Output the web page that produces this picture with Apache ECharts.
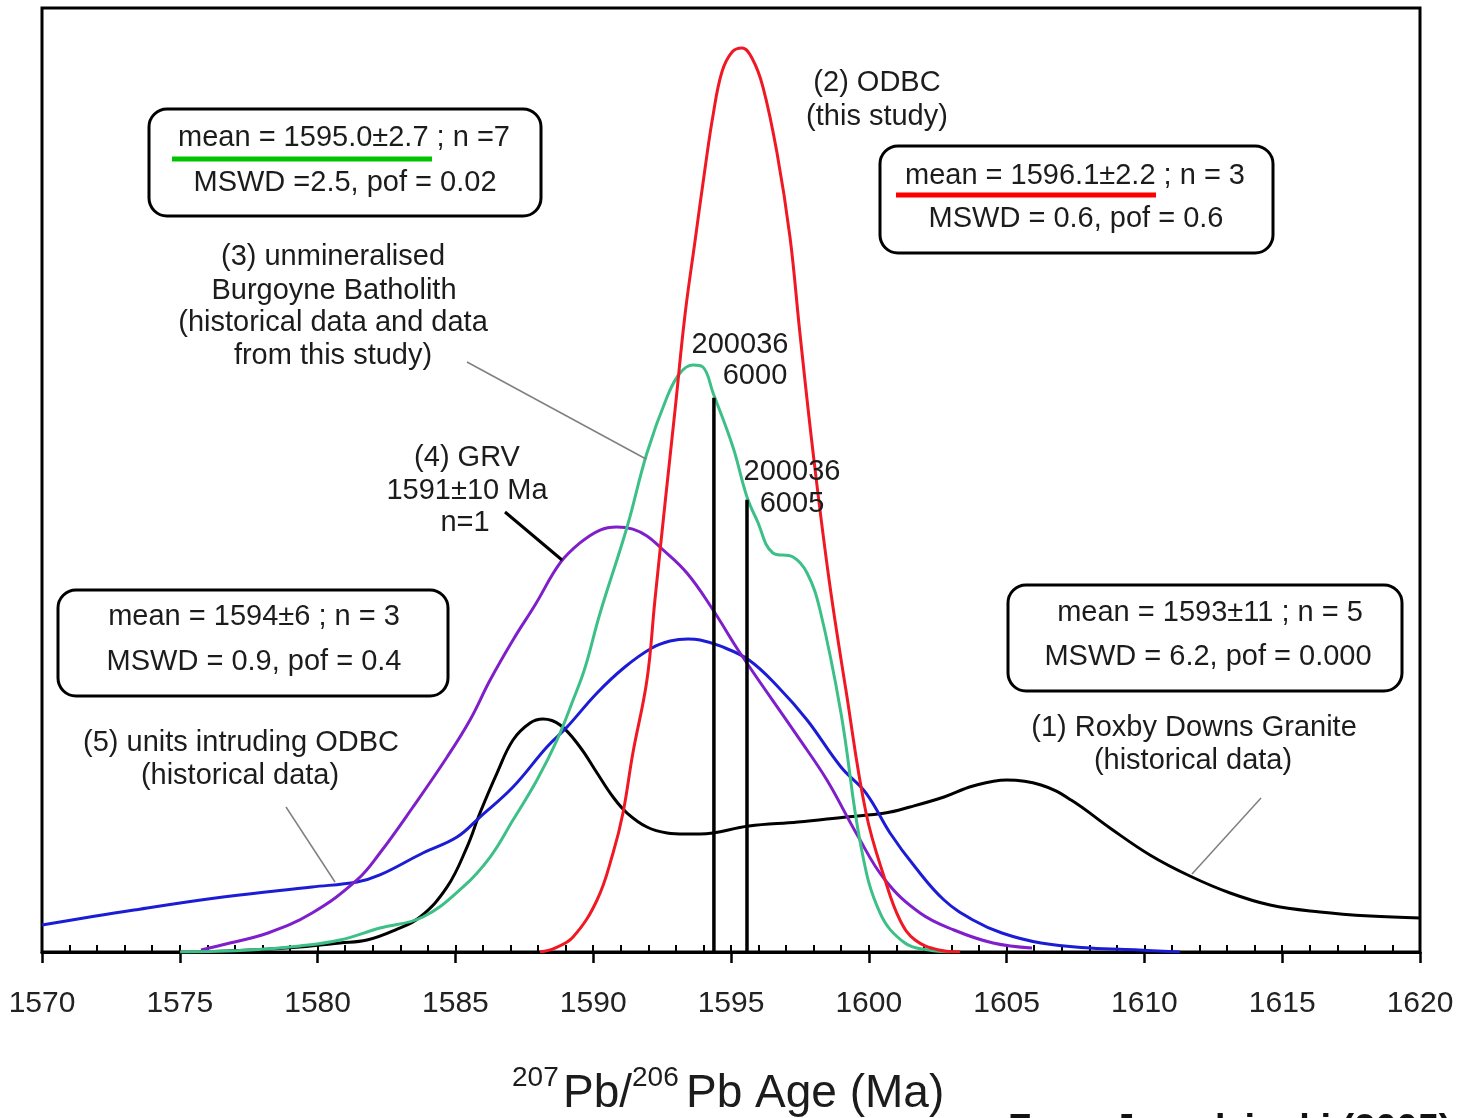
<!DOCTYPE html>
<html>
<head>
<meta charset="utf-8">
<script src="https://cdn.jsdelivr.net/npm/echarts@6/dist/echarts.min.js"></script>
<style>
html,body{margin:0;padding:0;background:#fff;}
#chart{width:1465px;height:1118px;}
</style>
</head>
<body>
<div id="chart"></div>
<script>
// ---- data (age in Ma, relative probability 0-100) ----
const xTicks = [1570, 1575, 1580, 1585, 1590, 1595, 1600, 1605, 1610, 1615, 1620];

// (2) ODBC (this study) - red
const odbcAge  = [1588.07,1588.61,1589.27,1590.14,1590.72,1591.08,1591.44,1591.95,1592.24,1592.60,1592.97,1593.33,1593.70,1594.06,1594.35,1594.67,1595.04,1595.40,1595.76,1596.16,1596.67,1597.14,1597.50,1597.98,1598.56,1599.17,1599.90,1600.59,1601.13,1601.68,1602.55,1603.31];
const odbcProb = [0,0.42,1.59,5.51,10.49,14.72,21.08,28.81,37.29,47.35,57.42,67.48,75.42,83.05,88.67,93.22,95.34,95.76,94.70,91.63,84.64,75.74,65.57,52.86,39.41,27.75,14.72,7.63,3.39,1.27,0.21,0];

// (3) unmineralised Burgoyne Batholith - green
const burgAge  = [1575.01,1577.55,1579.36,1580.81,1582.26,1583.82,1585.28,1586.26,1587.09,1587.96,1588.69,1589.27,1589.70,1590.25,1591.23,1591.95,1592.68,1593.15,1593.62,1593.98,1594.35,1595.07,1595.58,1595.94,1596.52,1597.25,1597.76,1598.23,1598.99,1599.72,1600.41,1601.31,1602.18,1602.95];
const burgProb = [0,0.21,0.64,1.27,2.54,3.71,6.89,10.06,13.98,18.22,22.46,26.69,30.08,35.91,45.02,52.86,58.79,61.33,62.18,61.97,59.22,53.50,48.20,45.76,42.27,41.84,40.15,36.23,25.32,11.12,4.13,0.95,0.21,0];

// (5) units intruding ODBC - blue
const intrAge  = [1570.00,1573.34,1576.57,1579.80,1581.43,1582.26,1583.82,1585.06,1585.89,1587.09,1588.32,1589.05,1590.14,1591.15,1592.13,1592.79,1593.44,1593.88,1594.60,1595.65,1596.71,1597.76,1598.99,1599.90,1600.77,1601.68,1602.73,1603.78,1604.83,1606.25,1608.03,1609.80,1611.29];
const intrProb = [2.86,4.45,5.83,6.89,7.42,8.16,10.49,12.18,14.30,17.48,21.72,23.83,27.44,30.19,32.20,32.94,33.16,33.05,32.42,30.93,28.07,24.58,19.60,16.84,12.61,9.00,5.51,3.39,2.01,0.95,0.42,0.21,0];

// (4) GRV - purple
const grvAge  = [1575.77,1576.82,1578.20,1579.80,1581.43,1582.26,1583.46,1584.70,1585.53,1586.26,1587.09,1587.89,1588.80,1589.52,1590.25,1590.86,1591.44,1591.95,1592.42,1593.40,1594.35,1595.33,1597.43,1598.48,1599.54,1600.59,1601.86,1603.09,1604.51,1605.92];
const grvProb = [0.21,0.95,2.01,4.13,7.63,10.49,15.36,20.66,24.58,28.81,33.05,36.76,41.21,43.33,44.70,45.02,44.80,44.07,42.90,40.15,36.23,31.67,22.78,18.22,12.61,7.63,4.13,2.33,0.95,0.42];

// (1) Roxby Downs Granite - black
const rdgAge  = [1575.73,1577.55,1579.36,1580.81,1581.79,1582.81,1583.72,1584.70,1585.42,1585.89,1586.51,1587.09,1587.71,1588.18,1588.80,1589.52,1590.14,1590.72,1591.23,1591.95,1592.68,1593.33,1593.88,1595.65,1597.43,1599.17,1600.59,1601.49,1602.73,1603.78,1605.01,1606.25,1607.34,1608.75,1610.20,1611.65,1613.11,1614.56,1616.37,1618.19,1620.00];
const rdgProb = [0,0.21,0.53,0.95,1.27,2.33,3.71,6.89,11.12,14.72,18.96,22.46,24.26,24.68,24.05,21.72,18.96,16.42,14.72,13.24,12.61,12.50,12.50,13.35,13.77,14.30,14.72,15.36,16.42,17.58,18.22,17.69,16.10,13.14,10.28,8.05,6.25,4.98,4.24,3.81,3.60];

// individual sample ages (vertical bars)
const sampleAges    = [1594.38, 1595.58];
const sampleHeights = [58.7, 47.9];

// ---- build ----
const zip = (a, b) => a.map((v, i) => [v, b[i]]);
const FONT = "'Liberation Sans', Arial, sans-serif";
const TXT = '#1c1c1c';

function curve(name, ages, probs, color) {
  return {
    name, type: 'line', data: zip(ages, probs), smooth: 0.4, symbol: 'none',
    lineStyle: { color, width: 3 }, z: 3, silent: true
  };
}

const series = [
  curve('Roxby Downs Granite', rdgAge, rdgProb, '#000000'),
  curve('units intruding ODBC', intrAge, intrProb, '#1c1cd6'),
  curve('GRV', grvAge, grvProb, '#7e1fcb'),
  curve('Burgoyne Batholith', burgAge, burgProb, '#3cc088'),
  curve('ODBC', odbcAge, odbcProb, '#f01822')
];
sampleAges.forEach((a, i) => {
  series.push({
    type: 'line', data: [[a, 0], [a, sampleHeights[i]]], symbol: 'none',
    lineStyle: { color: '#000', width: 3.5 }, z: 4, silent: true
  });
});

function txt(x, y, s, opts) {
  return {
    type: 'text', x, y, z: 10,
    style: Object.assign({ text: s, fontFamily: FONT, fontSize: 29, fill: TXT, align: 'center', verticalAlign: 'middle' }, (opts || {}))
  };
}
function box(x1, y1, x2, y2) {
  return { type: 'rect', z: 8, shape: { x: x1, y: y1, width: x2 - x1, height: y2 - y1, r: 18 },
           style: { fill: '#fff', stroke: '#000', lineWidth: 3 } };
}
function seg(x1, y1, x2, y2, color, w) {
  return { type: 'line', z: 9, shape: { x1, y1, x2, y2 }, style: { stroke: color, lineWidth: w } };
}

const graphics = [
  box(149, 109, 541, 216),
  txt(344, 138, 'mean = 1595.0±2.7 ; n =7'),
  txt(345, 183, 'MSWD =2.5, pof = 0.02'),
  seg(172, 159, 432, 159, '#00c400', 5),

  box(880, 146, 1273, 253),
  txt(1075, 176, 'mean = 1596.1±2.2 ; n = 3'),
  txt(1076, 219, 'MSWD = 0.6, pof = 0.6'),
  seg(896, 195, 1156, 195, '#ff0000', 5),

  box(58, 590, 448, 696),
  txt(254, 617, 'mean = 1594±6 ; n = 3'),
  txt(254, 662, 'MSWD = 0.9, pof = 0.4'),

  box(1008, 585, 1402, 691),
  txt(1210, 613, 'mean = 1593±11 ; n = 5'),
  txt(1208, 657, 'MSWD = 6.2, pof = 0.000'),

  txt(877, 83, '(2) ODBC'),
  txt(877, 117, '(this study)'),
  txt(333, 257, '(3) unmineralised'),
  txt(334, 291, 'Burgoyne Batholith'),
  txt(333, 323, '(historical data and data'),
  txt(333, 356, 'from this study)'),
  txt(467, 458, '(4) GRV'),
  txt(467, 491, '1591±10 Ma'),
  txt(465, 523, 'n=1'),
  txt(241, 743, '(5) units intruding ODBC'),
  txt(240, 776, '(historical data)'),
  txt(1194, 728, '(1) Roxby Downs Granite'),
  txt(1193, 761, '(historical data)'),
  txt(740, 345, '200036'),
  txt(755, 376, '6000'),
  txt(792, 472, '200036'),
  txt(792, 504, '6005'),

  seg(467, 362, 646, 459, '#808080', 1.5),
  seg(505, 512, 562, 560, '#000000', 3),
  seg(286, 807, 335, 882, '#808080', 1.5),
  seg(1261, 798, 1192, 874, '#808080', 1.5),

  txt(512, 1078, '207', { fontSize: 28, align: 'left' }),
  txt(563, 1094, 'Pb/', { fontSize: 46, align: 'left' }),
  txt(632, 1078, '206', { fontSize: 28, align: 'left' }),
  txt(686, 1094, 'Pb Age (Ma)', { fontSize: 46, align: 'left' }),

  txt(1008, 1131, 'From Jagodzinski (2005)', { fontSize: 38, align: 'left', fontWeight: 'bold', fill: '#111' })
];

const chart = echarts.init(document.getElementById('chart'), null, { renderer: 'canvas' });
chart.setOption({
  animation: false,
  backgroundColor: '#ffffff',
  grid: { left: 42, right: 45, top: 8, bottom: 166, show: true, borderColor: '#000', borderWidth: 3,
          backgroundColor: 'transparent', containLabel: false, outerBoundsMode: 'none' },
  xAxis: [
    {
      type: 'value', min: xTicks[0], max: xTicks[xTicks.length - 1], interval: 5,
      axisLine: { show: true, onZero: false, lineStyle: { color: '#000', width: 3 } },
      axisTick: { show: true, length: 11, lineStyle: { color: '#000', width: 2.5 } },
      axisLabel: { show: true, margin: 37, fontSize: 30, color: '#222', fontFamily: FONT,
                   showMinLabel: true, showMaxLabel: true, hideOverlap: false,
                   formatter: v => String(v) },
      splitLine: { show: false }
    },
    {
      type: 'value', min: xTicks[0], max: xTicks[xTicks.length - 1], interval: 1, position: 'bottom',
      axisLine: { show: false },
      axisTick: { show: true, inside: true, length: 7, lineStyle: { color: '#000', width: 2 } },
      axisLabel: { show: false },
      splitLine: { show: false }
    }
  ],
  yAxis: { type: 'value', min: 0, max: 100, show: false, splitLine: { show: false } },
  series,
  graphic: graphics
});
</script>
</body>
</html>
